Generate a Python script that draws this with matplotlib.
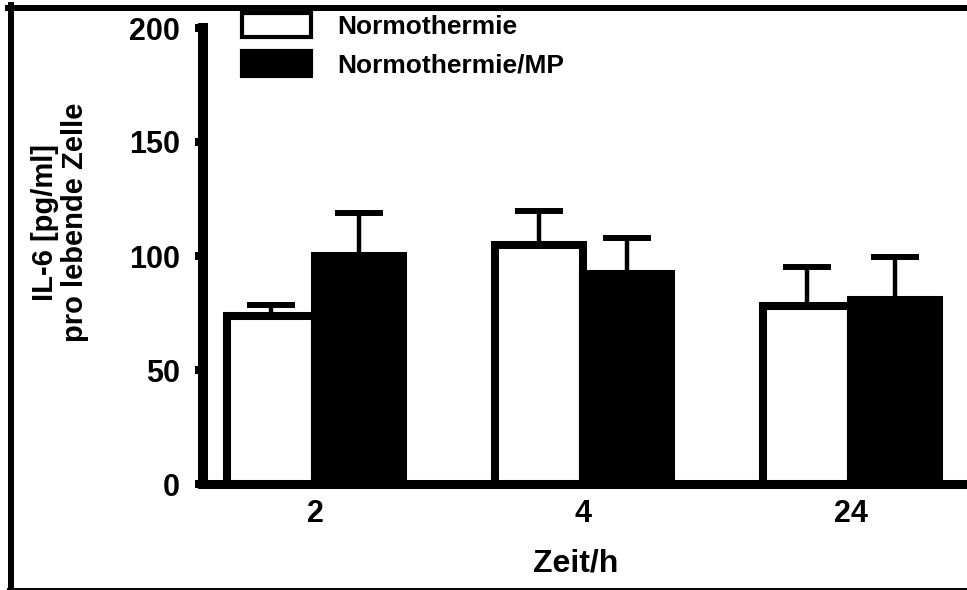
#!/usr/bin/env python3
import numpy as np
import matplotlib
matplotlib.use("Agg")
import matplotlib.pyplot as plt
from matplotlib.patches import Patch
from matplotlib.lines import Line2D

plt.rcParams["font.family"] = ["Liberation Sans", "DejaVu Sans"]
plt.rcParams["font.weight"] = "bold"

# data
zeit = ["2", "4", "24"]
normo = [73.7, 104.8, 78.0]
normo_err = [4.8, 15.0, 17.0]
normo_mp = [100.0, 92.0, 80.7]
normo_mp_err = [19.0, 16.0, 19.0]

fig = plt.figure(figsize=(9.67, 5.90), dpi=100)
ax = fig.add_axes([203 / 967, 106 / 590, 760 / 967, 456 / 590])

x = np.arange(len(zeit))
w = 0.33
lw_bar = 5.8

ax.bar(x - w / 2, normo, w, color="white", edgecolor="black", lw=lw_bar, zorder=3)
ax.bar(x + w / 2, normo_mp, w, color="black", edgecolor="black", lw=lw_bar, zorder=4)

# upper error bars only
for xs, v, e in [(x - w / 2, normo, normo_err), (x + w / 2, normo_mp, normo_mp_err)]:
    _, caps, _ = ax.errorbar(xs, v, yerr=[np.zeros(len(e)), e], fmt="none",
                             ecolor="black", elinewidth=3.2, capsize=17,
                             capthick=4.3, zorder=2)
    for c in caps:
        c.set_solid_capstyle("round")

ax.set_ylim(0, 200)
ax.set_xlim(-0.418, 2.418)
ax.set_yticks([0, 50, 100, 150, 200])
ax.set_xticks(x)
ax.set_xticklabels(zeit)

ax.spines["right"].set_visible(False)
ax.spines["top"].set_visible(False)
ax.spines["left"].set_linewidth(7.2)
ax.spines["bottom"].set_linewidth(6.5)
ax.tick_params(axis="y", length=5.5, width=5.8, pad=11, labelsize=22)
ax.tick_params(axis="x", length=0, pad=11, labelsize=22)
for t in ax.get_xticklabels() + ax.get_yticklabels():
    t.set_fontweight("bold")

fig.text(60 / 967, 1 - 222 / 590, "IL-6 [pg/ml]\npro lebende Zelle",
         rotation=90, ha="center", va="center", multialignment="center",
         fontsize=21, fontweight="bold", linespacing=1.1)
fig.text(576 / 967, 1 - 564 / 590, "Zeit/h", ha="center", va="center",
         fontsize=23, fontweight="bold")

hs = [Patch(facecolor="white", edgecolor="black", lw=3),
      Patch(facecolor="black", edgecolor="black", lw=3)]
ax.legend(hs, ["Normothermie", "Normothermie/MP"], loc="upper left",
          bbox_to_anchor=(242 / 967, 1 - 13 / 590), bbox_transform=fig.transFigure,
          frameon=False, borderpad=0, borderaxespad=0, handlelength=2.6,
          handleheight=1.05, handletextpad=1.0, labelspacing=0.45,
          prop={"size": 19, "weight": "bold"})

# frame around the figure (top, left, bottom)
fig.add_artist(Line2D([8 / 967, 1], [1 - 8 / 590] * 2, color="black", lw=4.3,
                      transform=fig.transFigure))
fig.add_artist(Line2D([11 / 967] * 2, [1.5 / 590, 1 - 5 / 590], color="black",
                      lw=4.3, transform=fig.transFigure))
fig.add_artist(Line2D([8 / 967, 1], [1.5 / 590] * 2, color="black", lw=1.4,
                      transform=fig.transFigure))

fig.savefig("out.png", dpi=100)
plt.close()
